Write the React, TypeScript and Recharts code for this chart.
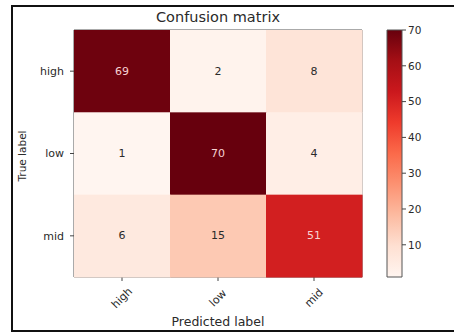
import { ScatterChart, Scatter, XAxis, YAxis, ReferenceArea, BarChart, Bar } from 'recharts'

const classes = ['high', 'low', 'mid']
const highRow = [69, 2, 8]
const lowRow = [1, 70, 4]
const midRow = [6, 15, 51]
const colorbarTicks = [10, 20, 30, 40, 50, 60, 70]
const vMin = 1
const vMax = 70

// matplotlib "Reds"
const reds = ['#fff5f0', '#fee0d2', '#fcbba1', '#fc9272', '#fb6a4a', '#ef3b2c', '#cb181d', '#a50f15', '#67000d']

const cells = [highRow, lowRow, midRow].flatMap((row, r) => row.map((v, c) => ({ col: c, row: r, v })))
const colorbarData = [{ name: 'cb', range: [vMin, vMax] }]

const W = 454
const H = 334
const plot = { left: 74, top: 30, right: 362, bottom: 277 }
const cellW = (plot.right - plot.left) / 3
const cellH = (plot.bottom - plot.top) / 3
const font = 'DejaVu Sans, sans-serif'
const ink = '#2a2a2a'

function hex(h: string) {
  return [1, 3, 5].map((i) => parseInt(h.slice(i, i + 2), 16))
}

function redsColor(v: number) {
  const t = Math.max(0, Math.min(1, (v - vMin) / (vMax - vMin))) * (reds.length - 1)
  const i = Math.min(reds.length - 2, Math.floor(t))
  const f = t - i
  const a = hex(reds[i])
  const b = hex(reds[i + 1])
  const c = a.map((x, k) => Math.round(x + (b[k] - x) * f))
  return `rgb(${c[0]},${c[1]},${c[2]})`
}

function Cell(props: any) {
  const { cx, cy, payload } = props
  const dark = payload.v > vMax / 2
  return (
    <g>
      <rect x={cx - cellW / 2} y={cy - cellH / 2} width={cellW + 0.5} height={cellH + 0.5} fill={redsColor(payload.v)} />
      <text
        x={cx}
        y={cy}
        textAnchor="middle"
        dominantBaseline="central"
        fontSize={11}
        fontFamily={font}
        fill={dark ? '#f6d2d2' : ink}
      >
        {payload.v}
      </text>
    </g>
  )
}

function XTick(props: any) {
  const { x, y, payload } = props
  const cy = y + 15
  return (
    <text
      x={x}
      y={cy}
      transform={`rotate(-45 ${x} ${cy})`}
      textAnchor="middle"
      dominantBaseline="central"
      fontSize={11}
      fontFamily={font}
      fill={ink}
    >
      {classes[payload.value]}
    </text>
  )
}

export default function App() {
  return (
    <div style={{ position: 'absolute', left: 0, top: 0, width: W, height: H, background: '#fff', overflow: 'hidden' }}>
      <div
        style={{
          position: 'absolute',
          left: 11,
          top: 5,
          width: W,
          height: 323,
          border: '2px solid #111',
          boxSizing: 'content-box',
        }}
      />
      <div
        style={{
          position: 'absolute',
          left: plot.left,
          width: plot.right - plot.left,
          top: 9,
          textAlign: 'center',
          fontFamily: font,
          fontSize: 14.5,
          color: ink,
        }}
      >
        Confusion matrix
      </div>
      <div style={{ position: 'absolute', left: 0, top: 0 }}>
        <ScatterChart
          width={W}
          height={H}
          margin={{ top: plot.top, right: W - plot.right, bottom: 0, left: 0 }}
        >
          <XAxis
            type="number"
            dataKey="col"
            domain={[-0.5, 2.5]}
            ticks={[0, 1, 2]}
            height={H - plot.bottom}
            axisLine={false}
            tickSize={4}
            tickMargin={2}
            tickLine={{ stroke: '#444' }}
            tick={<XTick />}
            label={() => (
              <text x={(plot.left + plot.right) / 2} y={326} textAnchor="middle" fontSize={12.5} fontFamily={font} fill={ink}>
                Predicted label
              </text>
            )}
          />
          <YAxis
            type="number"
            dataKey="row"
            domain={[-0.5, 2.5]}
            ticks={[0, 1, 2]}
            reversed
            width={plot.left}
            axisLine={false}
            tickSize={4}
            tickMargin={6}
            tickLine={{ stroke: '#444' }}
            tickFormatter={(i: number) => classes[i]}
            tick={{ fontSize: 11, fontFamily: font, fill: ink }}
            label={() => (
              <text
                x={22}
                y={156}
                transform="rotate(-90 22 156)"
                textAnchor="middle"
                dominantBaseline="central"
                fontSize={10.5}
                fontFamily={font}
                fill={ink}
              >
                True label
              </text>
            )}
          />
          <Scatter data={cells} shape={<Cell />} isAnimationActive={false} />
          <ReferenceArea x1={-0.5} x2={2.5} y1={-0.5} y2={2.5} fill="none" stroke="#555" strokeWidth={1} />
        </ScatterChart>
      </div>
      <div style={{ position: 'absolute', left: 0, top: 0 }}>
        <BarChart
          width={W}
          height={H}
          data={colorbarData}
          barCategoryGap={0}
          margin={{ top: plot.top, right: 0, bottom: H - plot.bottom, left: 387 }}
        >
          <defs>
            <linearGradient id="redsGrad" x1="0" y1="1" x2="0" y2="0">
              {reds.map((c, i) => (
                <stop key={c} offset={`${(i / (reds.length - 1)) * 100}%`} stopColor={c} />
              ))}
            </linearGradient>
          </defs>
          <XAxis dataKey="name" hide />
          <YAxis
            type="number"
            orientation="right"
            domain={[vMin, vMax]}
            ticks={colorbarTicks}
            width={W - 402}
            axisLine={false}
            tickSize={4}
            tickMargin={2}
            tickLine={{ stroke: '#444' }}
            tick={{ fontSize: 10.5, fontFamily: font, fill: ink }}
          />
          <Bar dataKey="range" fill="url(#redsGrad)" stroke="#555" strokeWidth={1} isAnimationActive={false} />
        </BarChart>
      </div>
    </div>
  )
}
